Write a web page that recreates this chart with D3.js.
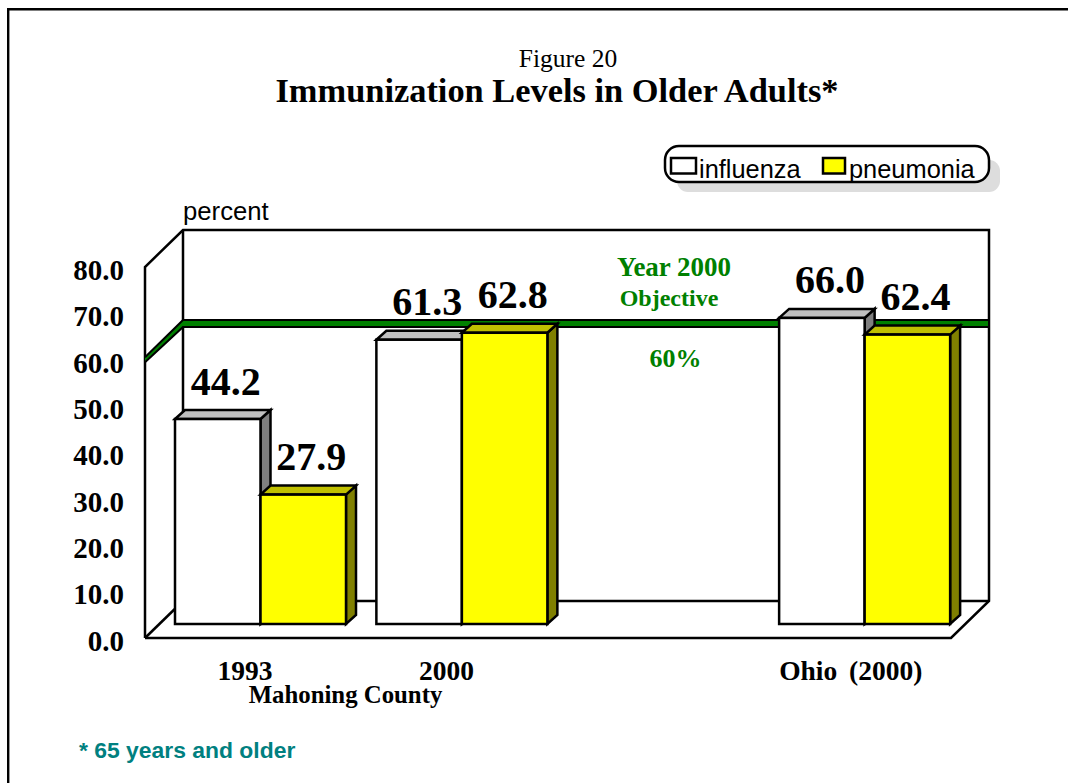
<!DOCTYPE html>
<html>
<head>
<meta charset="UTF-8">
<title>Figure 20</title>
<script src="https://d3js.org/d3.v7.min.js"></script>
<style>
  body { margin: 0; background: #fff; }
  text { font-family: "Liberation Serif", serif; fill: #000; }
  .sans { font-family: "Liberation Sans", sans-serif; }
</style>
</head>
<body>
<script>
var categories = ["1993", "2000", "", "Ohio (2000)"];
var seriesNames = ["influenza", "pneumonia"];
var influenza = [44.2, 61.3, null, 66.0];
var pneumonia = [27.9, 62.8, null, 62.4];
var tickValues = [0, 10, 20, 30, 40, 50, 60, 70, 80];
var objective = 60;

var width = 1068, height = 783;
var depthX = 38, depthY = 37, barDepthX = 10, barDepthY = 9;
var lineW = 2.5;

var svg = d3.select("body").append("svg")
  .attr("width", width).attr("height", height)
  .style("display", "block");

// outer frame
svg.append("path")
  .attr("d", "M8.2,783V9.2H1068")
  .attr("fill", "none").attr("stroke", "#000").attr("stroke-width", 2.4);

var title = svg.append("g").attr("text-anchor", "middle");
title.append("text").attr("x", 568).attr("y", 67).attr("font-size", 25.5).text("Figure 20");
title.append("text").attr("x", 557).attr("y", 102).attr("font-size", 34.4).attr("font-weight", "bold")
  .text("Immunization Levels in Older Adults*");

// scales: front plane of the box, bars sit a little behind it
var y = d3.scaleLinear().domain([0, 80]).range([638, 267]);
var x = d3.scaleBand().domain(categories).range([175, 980.5]);
var barW = 85.5;
var floorY = 624;
function barTop(v) { return y(v) - (638 - floorY); }

// box walls
var left = 145, right = 951, bottom = y(0), top0 = y(80);
var box = svg.append("g").attr("fill", "none").attr("stroke", "#000").attr("stroke-width", lineW);
box.append("path").attr("d", d3.line()([
  [left, bottom], [left, top0], [left + depthX, top0 - depthY], [right + depthX, top0 - depthY],
  [right + depthX, bottom - depthY], [right, bottom], [left, bottom]
]));
box.append("path").attr("d", d3.line()([[left + depthX, top0 - depthY], [left + depthX, bottom - depthY], [right + depthX, bottom - depthY]]));
box.append("path").attr("d", d3.line()([[left, bottom], [left + depthX, bottom - depthY]]));

// objective band along side and back wall
var band = 3.5, bandLeft = 2.5;
var oy = y(objective);
svg.append("path")
  .attr("d", d3.line()([
    [left, oy - bandLeft], [left + depthX, oy - depthY - band + 0.7], [right + depthX, oy - depthY - band + 0.7],
    [right + depthX, oy - depthY + band + 0.7], [left + depthX, oy - depthY + band + 0.7], [left, oy + bandLeft]
  ]))
  .attr("fill", "#008000").attr("stroke", "#000").attr("stroke-width", 2);

// axis
var axis = d3.axisLeft(y).tickValues(tickValues).tickSize(0).tickPadding(0).tickFormat(d3.format(".1f"));
var axisG = svg.append("g").attr("transform", "translate(124,3)").call(axis);
axisG.select(".domain").remove();
axisG.selectAll("text").attr("font-size", 29).attr("font-weight", "bold")
  .style("font-family", '"Liberation Serif", serif').attr("fill", "#000").attr("dy", "0.32em");

// bars
var seriesData = [
  { name: seriesNames[0], values: influenza, off: 0, front: "#fff", topc: "#c0c0c0", side: "#808080" },
  { name: seriesNames[1], values: pneumonia, off: barW, front: "#ffff00", topc: "#c0c000", side: "#808000" }
];
var bars = svg.append("g").attr("stroke", "#000").attr("stroke-width", lineW).attr("stroke-linejoin", "miter");
var labels = [];
categories.forEach(function(c, i) {
  seriesData.forEach(function(s) {
    var v = s.values[i];
    if (v == null) return;
    var x0 = x(c) + s.off, x1 = x0 + barW, t = barTop(v);
    var line = d3.line();
    bars.append("path").attr("fill", s.side).attr("d", line([[x1, t], [x1 + barDepthX, t - barDepthY], [x1 + barDepthX, floorY - barDepthY], [x1, floorY]]) + "Z");
    bars.append("path").attr("fill", s.topc).attr("d", line([[x0, t], [x0 + barDepthX, t - barDepthY], [x1 + barDepthX, t - barDepthY], [x1, t]]) + "Z");
    bars.append("rect").attr("x", x0).attr("y", t).attr("width", barW).attr("height", floorY - t).attr("fill", s.front);
    labels.push({ v: v, x: x0 + barW / 2 + 8, y: t - 24.5 });
  });
});

svg.append("g").selectAll("text").data(labels).join("text")
  .attr("x", function(d) { return d.x; })
  .attr("y", function(d) { return d.y; })
  .attr("text-anchor", "middle").attr("font-size", 40).attr("font-weight", "bold")
  .text(function(d) { return d.v.toFixed(1); });

// category labels
svg.append("g").selectAll("text").data(categories.filter(function(c) { return c; })).join("text")
  .attr("x", function(c) { return x(c) + (c === "Ohio (2000)" ? 0 : 42.5); })
  .attr("y", 680)
  .attr("font-size", 27.5).attr("font-weight", "bold")
  .attr("word-spacing", function(c) { return c === "Ohio (2000)" ? 5 : 0; })
  .text(function(c) { return c; });
svg.append("text").attr("x", 345.5).attr("y", 703).attr("text-anchor", "middle")
  .attr("font-size", 24.8).attr("font-weight", "bold").text("Mahoning County");

// objective note
var note = svg.append("g").attr("text-anchor", "middle").attr("font-weight", "bold");
[["Year 2000", 674, 276, 27], ["Objective", 669, 306, 24], ["60%", 675.5, 367, 26]].forEach(function(n) {
  note.append("text").attr("x", n[1]).attr("y", n[2]).attr("font-size", n[3]).style("fill", "#008000").text(n[0]);
});

svg.append("text").attr("class", "sans").attr("x", 183).attr("y", 220).attr("font-size", 25.7)
  .text("percent");
svg.append("text").attr("class", "sans").attr("x", 79).attr("y", 758).attr("font-size", 22.9)
  .attr("font-weight", "bold").style("fill", "#008080").text("* 65 years and older");

// legend
var legend = svg.append("g");
legend.append("rect").attr("x", 677).attr("y", 160).attr("width", 323).attr("height", 32).attr("rx", 11)
  .attr("fill", "#ddd");
legend.append("rect").attr("x", 665).attr("y", 146).attr("width", 324).attr("height", 36).attr("rx", 14)
  .attr("fill", "#fff").attr("stroke", "#000").attr("stroke-width", lineW);
legend.append("rect").attr("x", 671).attr("y", 158).attr("width", 25).attr("height", 15.5)
  .attr("fill", "#fff").attr("stroke", "#000").attr("stroke-width", lineW);
legend.append("rect").attr("x", 823).attr("y", 158).attr("width", 22).attr("height", 15.5)
  .attr("fill", "#ffff00").attr("stroke", "#000").attr("stroke-width", lineW);
legend.append("text").attr("class", "sans").attr("x", 699).attr("y", 178).attr("font-size", 25.4).text(seriesNames[0]);
legend.append("text").attr("class", "sans").attr("x", 849).attr("y", 178).attr("font-size", 25.4).text(seriesNames[1]);
</script>
</body>
</html>
